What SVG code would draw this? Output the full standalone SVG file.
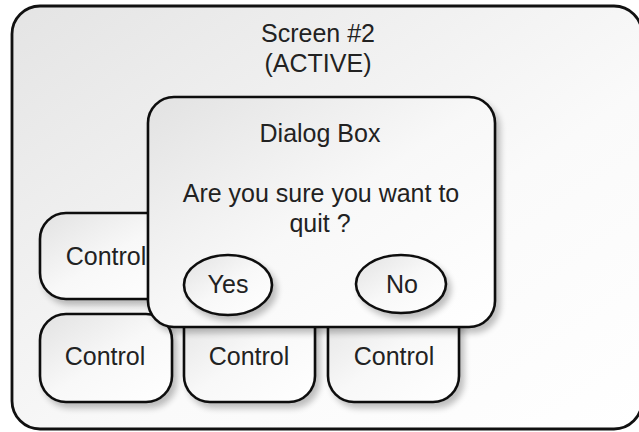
<svg xmlns="http://www.w3.org/2000/svg" width="639" height="432" viewBox="0 0 639 432">
  <defs>
    <linearGradient id="fillScreen" x1="0" y1="0" x2="1" y2="1">
      <stop offset="0" stop-color="#e4e4e4"/>
      <stop offset="0.6" stop-color="#fafafa"/>
      <stop offset="1" stop-color="#ffffff"/>
    </linearGradient>
    <linearGradient id="fillBox" x1="0" y1="0" x2="1" y2="1">
      <stop offset="0" stop-color="#e2e2e2"/>
      <stop offset="0.5" stop-color="#f8f8f8"/>
      <stop offset="1" stop-color="#ffffff"/>
    </linearGradient>
    <filter id="shadow" x="-10%" y="-10%" width="125%" height="130%">
      <feGaussianBlur in="SourceAlpha" stdDeviation="3"/>
      <feOffset dx="4" dy="5" result="blur"/>
      <feComponentTransfer><feFuncA type="linear" slope="0.25"/></feComponentTransfer>
      <feMerge><feMergeNode/><feMergeNode in="SourceGraphic"/></feMerge>
    </filter>
  </defs>
  <style>
    .shape { fill: url(#fillBox); stroke: #111; stroke-width: 2.6; filter: url(#shadow); }
    .screen { fill: url(#fillScreen); stroke: #111; stroke-width: 2.8; }
    .lbl { font-family: "Liberation Sans", Arial, sans-serif; font-size: 25px; fill: #222; text-anchor: middle; }
  </style>

  <g id="screen">
    <rect class="screen" x="12" y="6" width="630" height="423" rx="28" ry="28"/>
    <text class="lbl" x="318" y="42">Screen #2</text>
    <text class="lbl" x="318" y="72">(ACTIVE)</text>
  </g>

  <g id="control-1">
    <rect class="shape" x="40" y="213" width="140" height="86" rx="26" ry="26"/>
    <text class="lbl" x="106" y="265">Control</text>
  </g>

  <g id="control-2">
    <rect class="shape" x="40" y="314" width="132" height="88" rx="26" ry="26"/>
    <text class="lbl" x="105" y="365">Control</text>
  </g>

  <g id="control-3">
    <rect class="shape" x="184" y="300" width="131" height="102" rx="26" ry="26"/>
    <text class="lbl" x="249" y="365">Control</text>
  </g>

  <g id="control-4">
    <rect class="shape" x="328" y="300" width="131" height="102" rx="26" ry="26"/>
    <text class="lbl" x="394" y="365">Control</text>
  </g>

  <g id="dialog">
    <rect class="shape" x="148" y="97" width="347" height="230" rx="26" ry="26"/>
    <text class="lbl" x="320" y="142">Dialog Box</text>
    <text class="lbl" x="321" y="202">Are you sure you want to</text>
    <text class="lbl" x="320" y="232">quit ?</text>
  </g>

  <g id="btn-yes">
    <ellipse class="shape" cx="228" cy="285" rx="44" ry="30"/>
    <text class="lbl" x="228" y="293">Yes</text>
  </g>

  <g id="btn-no">
    <ellipse class="shape" cx="401" cy="284" rx="45" ry="29"/>
    <text class="lbl" x="402" y="293">No</text>
  </g>

  <g id="connectors"/>
</svg>
